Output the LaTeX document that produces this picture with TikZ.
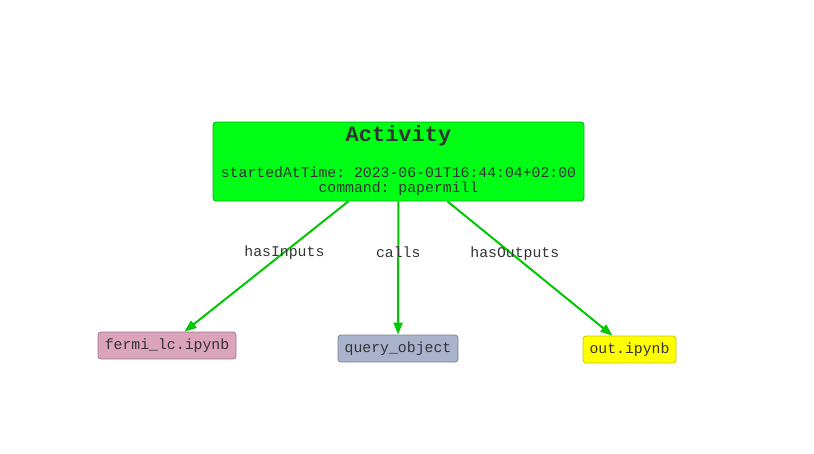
\documentclass[tikz,border=0pt]{standalone}
\usepackage{fontspec}
\setmonofont{Liberation Mono}
\usetikzlibrary{arrows.meta}
\definecolor{txt}{HTML}{333333}
\definecolor{edgegreen}{HTML}{00C800}
\definecolor{actfill}{HTML}{00FF16}
\definecolor{actdraw}{HTML}{00B010}
\definecolor{pinkfill}{HTML}{DBA3BC}
\definecolor{pinkdraw}{HTML}{A07890}
\definecolor{bluefill}{HTML}{AAB3CC}
\definecolor{bluedraw}{HTML}{7A8095}
\definecolor{yelfill}{HTML}{FFFF00}
\definecolor{yeldraw}{HTML}{C8C800}
\begin{document}
\begin{tikzpicture}[x=1pt,y=-1pt,
  every node/.style={font=\ttfamily\fontsize{14.8}{15}\selectfont, text=txt, inner sep=0pt},
  box/.style={rounded corners=3pt, line width=0.8pt, minimum height=27pt},
  link/.style={draw=edgegreen, line width=2pt, -{Triangle[length=12pt,width=9pt]}},
  lbl/.style={pos=0.39}
]
\useasboundingbox (0,0) rectangle (814,453);
\node[box, fill=actfill, draw=actdraw, minimum width=371pt, minimum height=79pt] (act) at (398.5,161.5) {};
\node (title) at (398.5,136) {\fontsize{22}{24}\selectfont\bfseries Activity};
\node[align=center, font=\ttfamily\fontsize{14.8}{14.8}\selectfont] (attrs) at (398.5,181) {startedAtTime: 2023-06-01T16:44:04+02:00\\command: papermill};
\node[box, fill=pinkfill, draw=pinkdraw, minimum width=138pt] (fermi) at (167,345.5) {fermi\_lc.ipynb};
\node[box, fill=bluefill, draw=bluedraw, minimum width=120pt] (query) at (398,348.5) {query\_object};
\node[box, fill=yelfill, draw=yeldraw, minimum width=93pt] (out) at (629.5,349.5) {out.ipynb};
\draw[link] (act) -- node[lbl] (e1) {hasInputs} (fermi);
\draw[link] (act) -- node[lbl, yshift=1pt] (e2) {calls} (query);
\draw[link] (act) -- node[lbl, xshift=3pt] (e3) {hasOutputs} (out);
\end{tikzpicture}
\end{document}
